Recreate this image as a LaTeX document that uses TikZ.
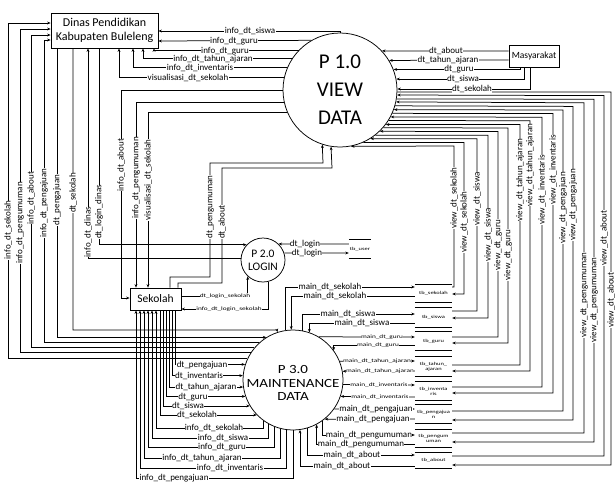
\documentclass[tikz,border=0pt]{standalone}
\usepackage{fontspec}
\setmainfont{Carlito}
\newfontfamily\widefont[FakeStretch=1.4]{Carlito}
\newfontfamily\midfont[FakeStretch=1.2]{Carlito}
\usetikzlibrary{arrows.meta}
\begin{document}
\begin{tikzpicture}[x=1pt,y=-1pt,
  ln/.style={line width=0.75pt},
  flow/.style={ln,-{Stealth[length=3.5pt,width=2.8pt]}},
  lbl/.style={font=\fontsize{9}{9.5}\selectfont,fill=white,inner sep=0.3pt},
  slbl/.style={font=\widefont\fontsize{5.2}{5.5}\selectfont,fill=white,inner sep=0.3pt},
  vlbl/.style={lbl,rotate=90},
  ebox/.style={draw,ln,inner sep=0pt,align=center},
  proc/.style={draw,ln,circle,inner sep=0pt,align=center},
  tb/.style={font=\widefont\fontsize{4.6}{5}\selectfont,inner sep=0pt,align=center,minimum width=37pt}
]
\useasboundingbox (0,0) rectangle (615,483);

% entities and processes
\node[ebox,minimum width=107pt,minimum height=35pt,font=\fontsize{12}{13.5}\selectfont] (dinas) at (104.5,30.5) {Dinas Pendidikan\\Kabupaten Buleleng};
\node[proc,minimum size=114pt,font=\fontsize{21}{28}\selectfont] (p1) at (340,90) {P 1.0\\VIEW\\DATA};
\node[ebox,minimum width=50pt,minimum height=22pt,font=\fontsize{9.5}{10}\selectfont] (mas) at (534,56) {Masyarakat};
\node[proc,minimum size=44pt,font=\fontsize{11.5}{13}\selectfont] (p2) at (263,260) {P 2.0\\LOGIN};
\node[ebox,minimum width=51pt,minimum height=22pt,font=\fontsize{11.5}{12}\selectfont] (sek) at (155.5,299) {Sekolah};
\node[proc,minimum size=100pt] (p3) at (293,380) {};
\node[font=\midfont\fontsize{12.5}{13.5}\selectfont,align=center] (p3t) at (293,383) {P 3.0\\MAINTENANCE\\DATA};

% data stores
\foreach \n/\cy/\h/\t in {ssek/293.5/17/tb\_sekolah, ssis/317.5/19/tb\_siswa, sguru/341/18/tb\_guru, sthn/366.5/19/tb\_tahun\_\\ajaran, sinv/391/18/tb\_inventa\\ris, speng/414/18/tb\_pengajua\\n, spgm/438.5/17/tb\_pengum\\uman, sabout/460.5/15/tb\_about}{
  \node[tb,minimum height=\h pt] (\n) at (433.5,\cy) {\t};
  \draw[ln] (\n.north west) -- (\n.north east) (\n.south west) -- (\n.south east);
}
\node[tb,minimum width=22pt,minimum height=18pt] (tbu) at (360,249) {tb\_user};
\draw[ln] (tbu.north west) -- (tbu.north east) (tbu.south west) -- (tbu.south east);

% P1 -> Dinas
\draw[flow] (p1.north) |- (dinas.east |- 0,31);
\draw[flow] (p1.120.7) -- (dinas.east |- 0,41);
\draw[flow] (p1.136.8) -| (dinas.south -| 154,0);
\draw[flow] (p1.147.1) -| (dinas.south -| 143,0);
\draw[flow] (p1.157.3) -| (dinas.south -| 133,0);
\draw[flow] (p1.167.8) -| (dinas.south -| 119,0);

% Masyarakat -> P1
\draw[flow] (mas.west |- 0,51) -- (p1.43.2);
\draw[flow] (mas.west |- 0,60) -- (p1.31.7);
\draw[flow] (mas.south -| 520,0) |- (p1.21.6);
\draw[flow] (mas.south -| 524,0) |- (p1.11.1);
\draw[flow] (mas.south -| 530,0) |- (p1.1.0);

% P1 -> Sekolah
\draw[flow] (p1.180) -| (121,298) -- (sek.west |- 0,298);
\draw[flow] (p1.192.2) -| (sek.north -| 136,0);
\draw[flow] (p1.203.8) -| (sek.north -| 148,0);
% Sekolah -> P1
\draw[flow] (sek.north -| 170,0) -- (170,277) -- (210,277) -- (210,163) -- (323,163) -- (p1.252.6);
\draw[flow] (sek.north -| 178,0) -- (178,283) -- (222,283) -- (222,168) -- (332,168) -- (p1.261.9);

% Dinas <-> P2
\draw[flow] (dinas.south -| 99,0) |- (p2.137.0);
\draw[flow] (p2.177.4) -| (dinas.south -| 88,0);
% P2 <-> tb_user
\draw[flow] (tbu.west |- 0,244) -- (p2.46.7);
\draw[flow] (p2.18.6) -- (tbu.west |- 0,253);
% Sekolah <-> P2
\draw[flow] (sek.east |- 0,296) -| (p2.227);
\draw[flow] (p2.283.1) |- (sek.east |- 0,309);

% P1 <-> stores (view)
\foreach \i/\vx/\ey/\dir/\sn/\t/\ly in {
0/611/465/1/sabout/view\_dt\_about/300,
1/604/456/0/sabout/view\_dt\_about/238,
2/594/442/1/spgm/view\_dt\_pengumuman/300,
3/584/433/0/spgm/view\_dt\_pengumuman/295,
4/573/420/1/speng/view\_dt\_pengajuan/205,
5/563/411/0/speng/view\_dt\_pengajuan/208,
6/553/393/1/sinv/view\_dt\_inventaris/170,
7/542/387/0/sinv/view\_dt\_inventaris/190,
8/530/371/1/sthn/view\_dt\_tahun\_ajaran/165,
9/520/365/0/sthn/view\_dt\_tahun\_ajaran/180,
10/508/343/1/sguru/view\_dt\_guru/255,
11/498/337/0/sguru/view\_dt\_guru/245,
12/488/318/1/ssis/view\_dt\_siswa/235,
13/477/311/0/ssis/view\_dt\_siswa/199,
14/464/294/1/ssek/view\_dt\_sekolah/222,
15/454/287/0/ssek/view\_dt\_sekolah/198}{
  \pgfmathsetmacro\yy{92+3.6*\i}
  \pgfmathsetmacro\ang{-asin((2+3.6*\i)/57)}
  \ifnum\dir=1
    \draw[flow] (p1.\ang) -- (\vx,\yy) -- (\vx,\ey) -- (\sn.east |- 0,\ey);
  \else
    \draw[flow] (\sn.east |- 0,\ey) -- (\vx,\ey) -- (\vx,\yy) -- (p1.\ang);
  \fi
  \node[vlbl] (v\i) at (\vx,\ly) {\t};
}

% P3 -> Dinas (left side)
\draw[flow] (p3.132.3) -| (44,40) -- (dinas.west |- 0,40);
\draw[flow] (p3.140.2) -| (31,35) -- (dinas.west |- 0,35);
\draw[flow] (p3.147.3) -| (20,29) -- (dinas.west |- 0,29);
\draw[flow] (p3.155.2) -| (8,23) -- (dinas.west |- 0,23);
% Dinas -> P3
\draw[flow] (dinas.south -| 73,0) |- (277,330) -- (p3.108.7);
\draw[flow] (dinas.south -| 57,0) |- (p3.122.9);

% P3 -> Sekolah (info)
\foreach \a/\y/\xs in {234.5/428/156, 241.3/438/152, 248.9/447/148, 256.1/458/144, 263.1/468/140, 270/478/136}{
  \draw[flow] (p3.\a) |- (\xs,\y) -- (sek.south -| \xs,0);
}
% Sekolah -> P3 (dt)
\foreach \a/\y/\xs in {224.4/415/160, 211.3/406/163, 199.9/397/166, 188.0/387/169, 175.4/376/172, 162.5/365/175}{
  \draw[flow] (sek.south -| \xs,0) |- (p3.\a);
}

% P3 <-> stores (main)
\draw[flow] (p3.99.2) |- (ssek.west |- 0,287);
\draw[flow] (ssek.west |- 0,296) -| (p3.92.3);
\draw[flow] (p3.79.6) |- (ssis.west |- 0,314);
\draw[flow] (ssis.west |- 0,323) -| (p3.71.3);
\draw[flow] (p3.59.3) -- (sguru.west |- 0,337);
\draw[flow] (sguru.west |- 0,345) -| (p3.36.9);
\draw[flow] (p3.22.3) -- (sthn.west |- 0,361);
\draw[flow] (sthn.west |- 0,371) -- (p3.10.4);
\draw[flow] (p3.-5.7) -- (sinv.west |- 0,385);
\draw[flow] (sinv.west |- 0,397) -- (p3.-19.9);
\draw[flow] (p3.-35.5) -- (speng.west |- 0,409);
\draw[flow] (speng.west |- 0,419) -- (p3.-51.3);
\draw[flow] (p3.-54.5) |- (spgm.west |- 0,435);
\draw[flow] (spgm.west |- 0,444) -| (p3.-62.6);
\draw[flow] (p3.-73.7) |- (sabout.west |- 0,455);
\draw[flow] (sabout.west |- 0,466) -| (p3.-82);

% horizontal labels
\foreach \x/\y/\t [count=\k] in {
250/31/info\_dt\_siswa, 234/41/info\_dt\_guru, 225/51/info\_dt\_guru,
213/59/info\_dt\_tahun\_ajaran, 200/68/info\_dt\_inventaris, 188/78/visualisasi\_dt\_sekolah,
446/51/dt\_about, 448/60/dt\_tahun\_ajaran, 459/69/dt\_guru, 463/79/dt\_siswa, 472/89/dt\_sekolah,
305/244/dt\_login, 307/253/dt\_login,
330/287/main\_dt\_sekolah, 335/296/main\_dt\_sekolah, 348/314/main\_dt\_siswa, 362/323/main\_dt\_siswa,
376/409/main\_dt\_pengajuan, 373/419/main\_dt\_pengajuan, 369/435/main\_dt\_pengumuman, 361/444/main\_dt\_pengumuman,
352/455/main\_dt\_about, 342/466/main\_dt\_about,
202/365/dt\_pengajuan, 199/376/dt\_inventaris, 206/387/dt\_tahun\_ajaran, 193/397/dt\_guru, 188/406/dt\_siswa, 197/415/dt\_sekolah,
214/428/info\_dt\_sekolah, 223/438/info\_dt\_siswa, 222/447/info\_dt\_guru, 202/458/info\_dt\_tahun\_ajaran,
230/468/info\_dt\_inventaris, 174/478/info\_dt\_pengajuan}{
  \node[lbl] (h\k) at (\x,\y) {\t};
}
% small labels
\foreach \x/\y/\t [count=\k] in {
225/296/dt\_login\_sekolah, 229/309/info\_dt\_login\_sekolah,
382/337/main\_dt\_guru, 378/345/main\_dt\_guru, 377/361/main\_dt\_tahun\_ajaran, 380/371/main\_dt\_tahun\_ajaran,
379/385/main\_dt\_inventaris, 380/397/main\_dt\_inventaris}{
  \node[slbl] (s\k) at (\x,\y) {\t};
}
% vertical labels
\foreach \x/\y/\t [count=\k] in {
121/165/info\_dt\_about, 136/178/info\_dt\_pengumuman, 148/180/visualisasi\_dt\_sekolah,
210/207/dt\_pengumuman, 222/222/dt\_about,
99/212/dt\_login\_dinas, 88/232/info\_dt\_dinas,
8/230/info\_dt\_sekolah, 20/223/info\_dt\_pengumuman, 31/198/info\_dt\_about, 44/203/info\_dt\_pengajuan,
57/200/dt\_pengajuan, 73/193/dt\_sekolah}{
  \node[vlbl] (w\k) at (\x,\y) {\t};
}
\end{tikzpicture}
\end{document}
